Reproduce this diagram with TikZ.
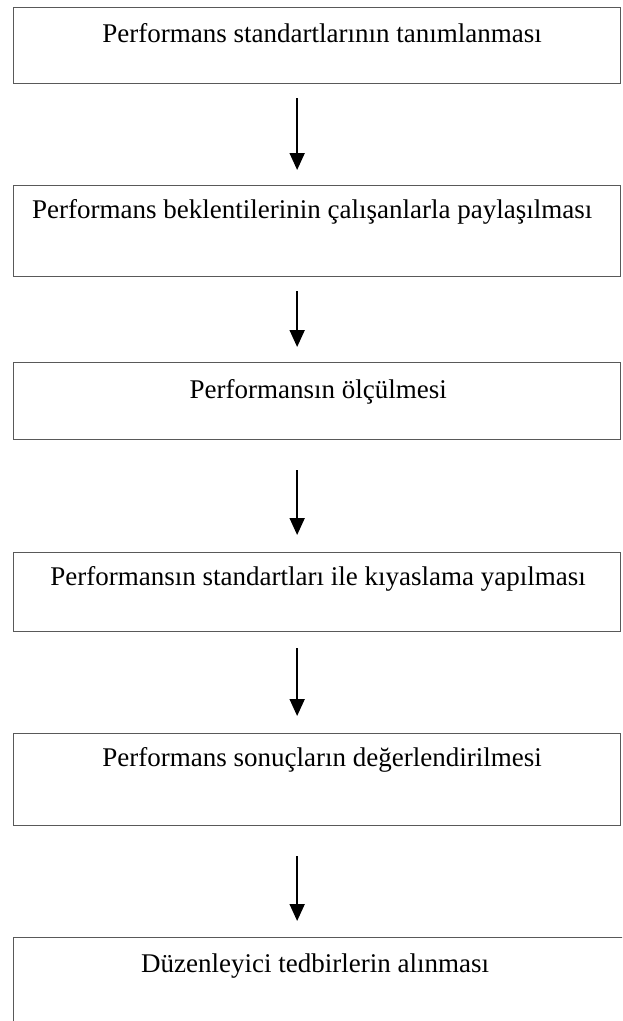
\documentclass[tikz,border=0pt]{standalone}
\usepackage{fontspec}
\setmainfont{Liberation Serif}
\usetikzlibrary{arrows.meta}
\begin{document}
\begin{tikzpicture}[x=1pt,y=-1pt,
  stepbox/.style={draw=black!65,line width=1.3pt,rectangle,inner sep=0pt,anchor=north west,minimum width=607pt},
  lbl/.style={anchor=base,inner sep=0pt,font=\fontsize{27}{30}\selectfont},
  arr/.style={draw=black,line width=1.8pt,-{Triangle[width=15pt,length=17pt]}}]
\path[use as bounding box,clip] (0,0) rectangle (622,1021);
\fill[white] (0,0) rectangle (622,1021);
\node[stepbox,minimum height=76pt] (b1) at (13,7) {};
\node[stepbox,minimum height=91pt] (b2) at (13,185) {};
\node[stepbox,minimum height=77pt] (b3) at (13,362) {};
\node[stepbox,minimum height=79pt] (b4) at (13,552) {};
\node[stepbox,minimum height=92pt] (b5) at (13,733) {};
\node[stepbox,minimum height=120pt,minimum width=640pt] (b6) at (13,937) {};
\node[lbl] (t1) at ([xshift=5pt,yshift=-35pt]b1.north) {Performans standartlarının tanımlanması};
\node[lbl] (t2) at ([xshift=-5pt,yshift=-33pt]b2.north) {Performans beklentilerinin çalışanlarla paylaşılması};
\node[lbl] (t3) at ([xshift=1pt,yshift=-36pt]b3.north) {Performansın ölçülmesi};
\node[lbl] (t4) at ([xshift=1pt,yshift=-33pt]b4.north) {Performansın standartları ile kıyaslama yapılması};
\node[lbl] (t5) at ([xshift=5pt,yshift=-33pt]b5.north) {Performans sonuçların değerlendirilmesi};
\node[lbl] (t6) at ([xshift=-18.5pt,yshift=-35pt]b6.north) {Düzenleyici tedbirlerin alınması};
\draw[arr] ([xshift=-20pt,yshift=-14pt]b1.south) -- ([xshift=-20pt,yshift=15pt]b2.north);
\draw[arr] ([xshift=-20pt,yshift=-14pt]b2.south) -- ([xshift=-20pt,yshift=15pt]b3.north);
\draw[arr] ([xshift=-20pt,yshift=-30pt]b3.south) -- ([xshift=-20pt,yshift=17pt]b4.north);
\draw[arr] ([xshift=-20pt,yshift=-16pt]b4.south) -- ([xshift=-20pt,yshift=17pt]b5.north);
\draw[arr] ([xshift=-20pt,yshift=-30pt]b5.south) -- ([xshift=-36.5pt,yshift=16pt]b6.north);
\end{tikzpicture}
\end{document}
